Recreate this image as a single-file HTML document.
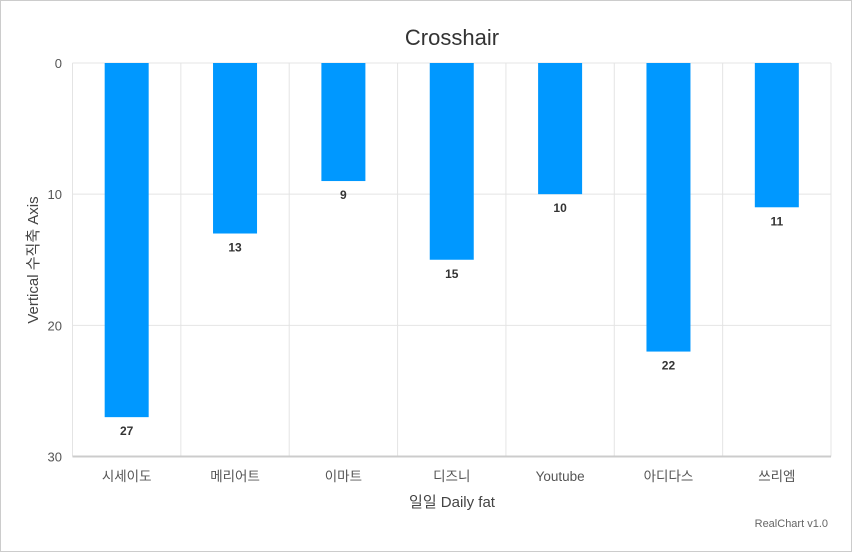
<!DOCTYPE html>
<html><head><meta charset="utf-8"><style>
body{margin:0;background:#fff}
svg{display:block;font-family:"Liberation Sans","Noto Sans CJK KR",sans-serif}
</style></head><body>
<svg id="c" width="852" height="552">
<rect x="0.5" y="0.5" width="851" height="551" fill="#fff" stroke="#ccc"/>
<text x="452" y="45" text-anchor="middle" font-size="22" fill="#333">Crosshair</text>
<text transform="translate(38,260) rotate(-90)" text-anchor="middle" font-size="15" fill="#444">Vertical 수직축 Axis</text>
<text x="452" y="507" text-anchor="middle" font-size="15" fill="#444">일일 Daily fat</text>
<text x="828" y="527" text-anchor="end" font-size="11" fill="#666">RealChart v1.0</text>
<g id="g"></g>
</svg>
<script>
const categories=["시세이도","메리어트","이마트","디즈니","Youtube","아디다스","쓰리엠"];
const values=[27,13,9,15,10,22,11];
const ticks=[0,10,20,30];
const L=72.5,R=831,T=63,B=456.5,max=30;
const g=document.getElementById('g');
const ns="http://www.w3.org/2000/svg";
const cw=(R-L)/categories.length;
const y=v=>T+(v/max)*(B-T);
const x=i=>L+i*cw;
function mk(t,a){const e=document.createElementNS(ns,t);for(const k in a)e.setAttribute(k,a[k]);g.appendChild(e);return e;}
ticks.forEach(t=>{
 if(t!==max){const l=mk('line',{x1:L,x2:R,y1:y(t),y2:y(t),stroke:'#e4e4e4'});
 
 }
 const tx=mk('text',{x:62,y:y(t)+5,'text-anchor':'end','font-size':13,fill:'#555'});tx.textContent=t;
 
 
});
for(let i=0;i<=categories.length;i++){const l=mk('line',{x1:x(i),x2:x(i),y1:T,y2:B,stroke:'#e4e4e4'});
 
 }
const ax=mk('line',{x1:L,x2:R,y1:B,y2:B,stroke:'#ccc','stroke-width':2});


categories.forEach((c,i)=>{
 const cx=x(i)+cw/2,bw=44;
 const r=mk('rect',{x:cx-bw/2,y:y(0),width:bw,height:y(values[i])-y(0),fill:'#0098ff'});
 
 
 const lb=mk('text',{x:cx,y:y(values[i])+18,'text-anchor':'middle','font-size':12,'font-weight':'bold',fill:'#333'});lb.textContent=values[i];
 
 
 const t=mk('text',{x:cx,y:481,'text-anchor':'middle','font-size':13.5,fill:'#555'});t.textContent=c;
 
 
});
</script>
</body></html>
